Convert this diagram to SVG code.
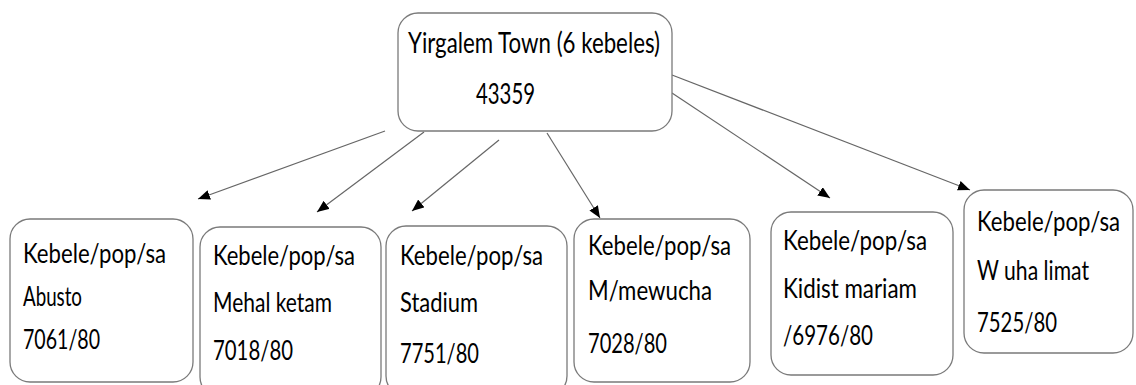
<svg xmlns="http://www.w3.org/2000/svg" width="1136" height="385" viewBox="0 0 1136 385">
<style>
.box{fill:#fff;stroke:#7a7a7a;stroke-width:1.3}
.t{font-family:Lato,"Noto Sans","Liberation Sans",sans-serif;fill:#000}
.c{stroke:#666;stroke-width:1.2;fill:none;marker-end:url(#ah)}
</style>
<defs>
<marker id="ah" viewBox="0 0 12 10" refX="12" refY="5" markerWidth="12" markerHeight="10" markerUnits="userSpaceOnUse" orient="auto">
<path d="M0,0 L12,5 L0,10 Z" fill="#000"/>
</marker>
</defs>
<rect width="1136" height="385" fill="#fff"/>
<g id="connectors">
<line class="c" x1="385" y1="131" x2="198" y2="199"/>
<line class="c" x1="424" y1="132" x2="317" y2="212"/>
<line class="c" x1="499" y1="140" x2="412" y2="211"/>
<line class="c" x1="547" y1="133" x2="600" y2="218"/>
<line class="c" x1="672" y1="93" x2="830" y2="198"/>
<line class="c" x1="672" y1="75" x2="970" y2="190"/>
</g>
<g id="town" font-size="28.5">
<rect class="box" x="398" y="13" width="274" height="118" rx="20"/>
<text class="t" x="408" y="53" textLength="252" lengthAdjust="spacingAndGlyphs">Yirgalem Town (6 kebeles)</text>
<text class="t" x="476" y="104" textLength="59" lengthAdjust="spacingAndGlyphs">43359</text>
</g>
<g id="abusto" font-size="26">
<rect class="box" x="10" y="219" width="183" height="163" rx="20"/>
<text class="t" x="23" y="263" textLength="143" lengthAdjust="spacingAndGlyphs">Kebele/pop/sa</text>
<text class="t" x="23" y="306" textLength="59" lengthAdjust="spacingAndGlyphs">Abusto</text>
<text class="t" x="23" y="349" textLength="77" lengthAdjust="spacingAndGlyphs">7061/80</text>
</g>
<g id="mehal-ketam" font-size="26">
<rect class="box" x="200" y="227" width="181" height="170" rx="20"/>
<text class="t" x="213" y="265" textLength="142" lengthAdjust="spacingAndGlyphs">Kebele/pop/sa</text>
<text class="t" x="213" y="312" textLength="119" lengthAdjust="spacingAndGlyphs">Mehal ketam</text>
<text class="t" x="213" y="360" textLength="80" lengthAdjust="spacingAndGlyphs">7018/80</text>
</g>
<g id="stadium" font-size="26">
<rect class="box" x="386" y="226" width="181" height="170" rx="20"/>
<text class="t" x="400" y="265" textLength="143" lengthAdjust="spacingAndGlyphs">Kebele/pop/sa</text>
<text class="t" x="400" y="312" textLength="78" lengthAdjust="spacingAndGlyphs">Stadium</text>
<text class="t" x="400" y="363" textLength="79" lengthAdjust="spacingAndGlyphs">7751/80</text>
</g>
<g id="mewucha" font-size="26">
<rect class="box" x="574" y="219" width="176" height="163" rx="20"/>
<text class="t" x="588" y="255" textLength="143" lengthAdjust="spacingAndGlyphs">Kebele/pop/sa</text>
<text class="t" x="588" y="300" textLength="124" lengthAdjust="spacingAndGlyphs">M/mewucha</text>
<text class="t" x="588" y="353" textLength="79" lengthAdjust="spacingAndGlyphs">7028/80</text>
</g>
<g id="kidist-mariam" font-size="26">
<rect class="box" x="771" y="212" width="182" height="163" rx="20"/>
<text class="t" x="783" y="250" textLength="144" lengthAdjust="spacingAndGlyphs">Kebele/pop/sa</text>
<text class="t" x="783" y="298" textLength="134" lengthAdjust="spacingAndGlyphs">Kidist mariam</text>
<text class="t" x="783" y="345" textLength="90" lengthAdjust="spacingAndGlyphs">/6976/80</text>
</g>
<g id="wuha-limat" font-size="26">
<rect class="box" x="964" y="190" width="169" height="163" rx="20"/>
<text class="t" x="977" y="231" textLength="143" lengthAdjust="spacingAndGlyphs">Kebele/pop/sa</text>
<text class="t" x="977" y="280" textLength="112" lengthAdjust="spacingAndGlyphs">W uha limat</text>
<text class="t" x="977" y="332" textLength="80" lengthAdjust="spacingAndGlyphs">7525/80</text>
</g>
</svg>
